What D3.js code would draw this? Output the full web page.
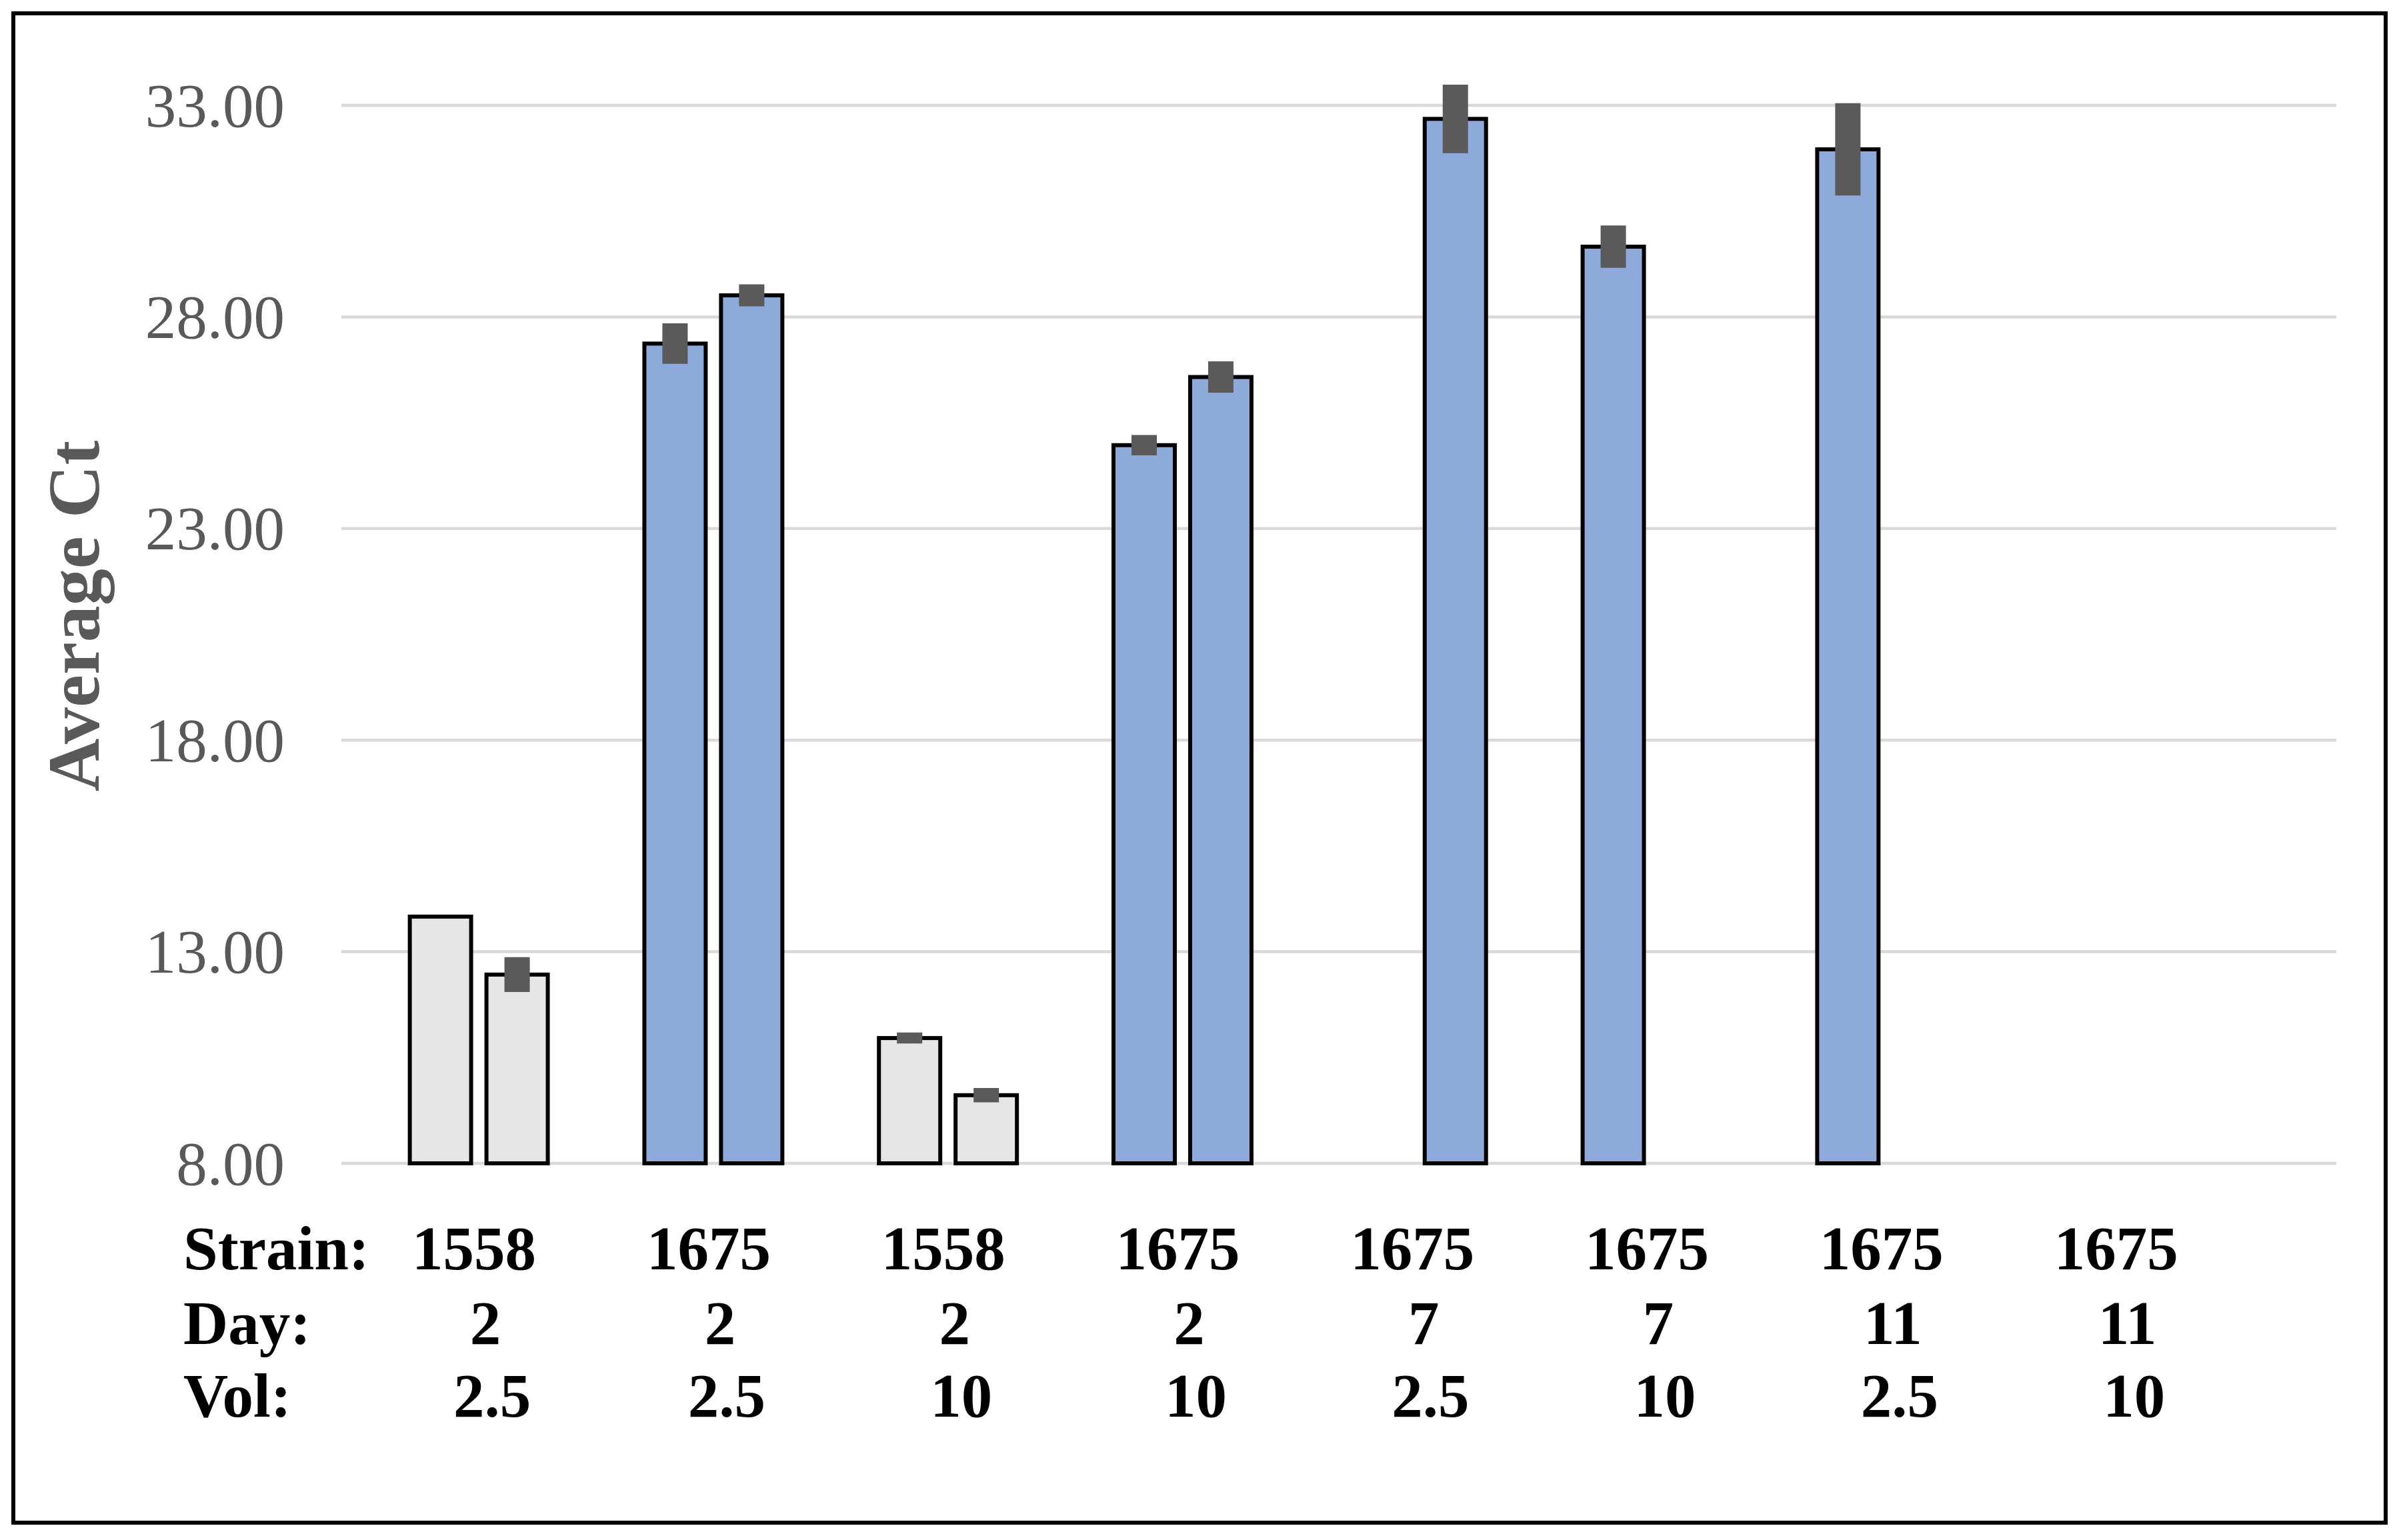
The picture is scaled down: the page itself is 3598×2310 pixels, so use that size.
<!DOCTYPE html>
<html>
<head>
<meta charset="utf-8">
<script src="https://cdn.jsdelivr.net/npm/d3@7"></script>
<style>
  html, body { margin: 0; padding: 0; background: #ffffff; }
  svg { display: block; }
</style>
</head>
<body>
<svg id="chart" width="3598" height="2310"></svg>
<script>
// ---------- data ----------
const strains = ["1558", "1675", "1558", "1675", "1675", "1675", "1675", "1675"];
const days    = ["2", "2", "2", "2", "7", "7", "11", "11"];
const vols    = ["2.5", "2.5", "10", "10", "2.5", "10", "2.5", "10"];
const seriesNames = ["first", "second"];
const firstValues  = [13.83, 27.37, 10.96, 24.97, null, 29.66, 31.96, null];
const secondValues = [12.46, 28.51, 9.61, 26.58, 32.68, null, null, null];
const firstErrors  = [0, 0.48, 0.13, 0.24, null, 0.50, 1.09, null];
const secondErrors = [0.41, 0.26, 0.17, 0.37, 0.81, null, null, null];
const yTicks = [8, 13, 18, 23, 28, 33];
const rowLabels = ["Strain:", "Day:", "Vol:"];
const rowValues = [strains, days, vols];
const yTitle = "Average Ct";

// ---------- layout ----------
const W = 3598, H = 2310;
const plot = { left: 512, right: 3504, top: 158, bottom: 1745 };
const serif = "'Liberation Serif', 'Times New Roman', Times, serif";
const colorByStrain = { "1558": "#e6e6e6", "1675": "#8eaadb" };

const svg = d3.select("#chart");
svg.append("rect").attr("x", 0).attr("y", 0).attr("width", W).attr("height", H).attr("fill", "#ffffff");

const groupIdx = d3.range(strains.length);
const x = d3.scaleBand()
  .domain(groupIdx)
  .range([plot.left, plot.right])
  .paddingInner(0)
  .paddingOuter(0.2525)
  .align(0.17);

const xSub = d3.scaleBand()
  .domain(seriesNames)
  .range([0, x.bandwidth()])
  .paddingInner(0.2)
  .paddingOuter(0.63);

const y = d3.scaleLinear().domain([8, 33]).range([plot.bottom, plot.top]);

// gridlines
svg.append("g").selectAll("line").data(yTicks).join("line")
  .attr("x1", plot.left).attr("x2", plot.right)
  .attr("y1", d => y(d)).attr("y2", d => y(d))
  .attr("stroke", "#d9d9d9").attr("stroke-width", 4.5);

// y tick labels
svg.append("g").selectAll("text").data(yTicks).join("text")
  .attr("x", 427).attr("y", d => y(d)).attr("dy", "0.34em")
  .attr("text-anchor", "end")
  .attr("font-family", serif).attr("font-size", 93)
  .attr("fill", "#595959")
  .text(d => d3.format(".2f")(d));

// y title
svg.append("text")
  .attr("transform", `translate(148, ${924}) rotate(-90)`)
  .attr("text-anchor", "middle")
  .attr("font-family", serif).attr("font-size", 110).attr("font-weight", "bold")
  .attr("fill", "#595959")
  .text(yTitle);

// bar records
const records = [];
groupIdx.forEach(i => {
  [[seriesNames[0], firstValues[i], firstErrors[i]], [seriesNames[1], secondValues[i], secondErrors[i]]]
    .forEach(([s, v, e]) => {
      if (v !== null) records.push({ g: i, s, v, e, strain: strains[i] });
    });
});

// bars
svg.append("g").selectAll("rect").data(records).join("rect")
  .attr("x", d => x(d.g) + xSub(d.s))
  .attr("width", xSub.bandwidth())
  .attr("y", d => y(d.v))
  .attr("height", d => y(8) - y(d.v))
  .attr("fill", d => colorByStrain[d.strain])
  .attr("stroke", "#000000").attr("stroke-width", 6);

// error bars
svg.append("g").selectAll("line").data(records.filter(d => d.e > 0)).join("line")
  .attr("x1", d => x(d.g) + xSub(d.s) + xSub.bandwidth() / 2)
  .attr("x2", d => x(d.g) + xSub(d.s) + xSub.bandwidth() / 2)
  .attr("y1", d => y(d.v + d.e))
  .attr("y2", d => y(d.v - d.e))
  .attr("stroke", "#5a5a5a").attr("stroke-width", 38).attr("stroke-linecap", "butt");

// table below the chart
const rowBaselines = [1904, 2016, 2125];
const rowShift = [-7, 10, 20];
const table = svg.append("g")
  .attr("font-family", serif).attr("font-size", 93).attr("font-weight", "bold")
  .attr("fill", "#000000");
rowLabels.forEach((lab, r) => {
  table.append("text").attr("x", 275).attr("y", rowBaselines[r]).text(lab);
  table.append("g").selectAll("text").data(groupIdx).join("text")
    .attr("x", i => x(i) + x.bandwidth() / 2 + rowShift[r])
    .attr("y", rowBaselines[r])
    .attr("text-anchor", "middle")
    .text(i => rowValues[r][i]);
});

// outer border
svg.append("rect")
  .attr("x", 20).attr("y", 20).attr("width", 3558).attr("height", 2264)
  .attr("fill", "none").attr("stroke", "#000000").attr("stroke-width", 6);
</script>
</body>
</html>
